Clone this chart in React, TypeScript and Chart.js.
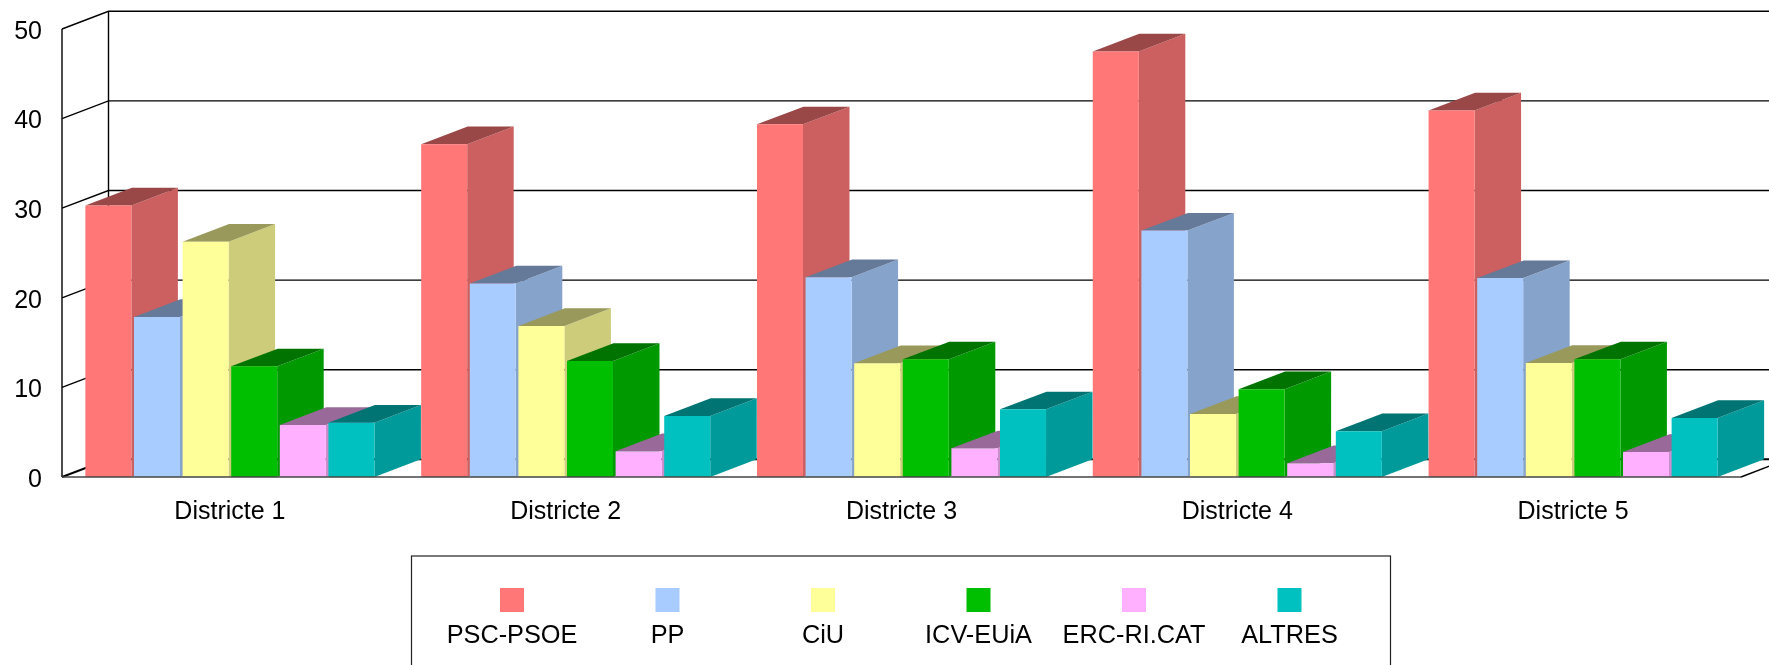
import { useEffect, useRef } from "react";
import { Chart, registerables } from "chart.js";

Chart.register(...registerables);

const categories = ["Districte 1", "Districte 2", "Districte 3", "Districte 4", "Districte 5"];
const pscPsoe = [30.3, 37.13, 39.36, 47.5, 40.9];
const pp = [17.86, 21.6, 22.3, 27.5, 22.2];
const ciu = [26.26, 16.85, 12.69, 7.03, 12.72];
const icvEuia = [12.35, 12.95, 13.13, 9.79, 13.13];
const ercRiCat = [5.8, 2.87, 3.2, 1.53, 2.79];
const altres = [6.06, 6.8, 7.55, 5.1, 6.58];
const yTicks = [0, 10, 20, 30, 40, 50];

const seriesNames = ["PSC-PSOE", "PP", "CiU", "ICV-EUiA", "ERC-RI.CAT", "ALTRES"];
const seriesValues = [pscPsoe, pp, ciu, icvEuia, ercRiCat, altres];
const seriesColors: [number, number, number][] = [
  [255, 119, 119],
  [168, 204, 255],
  [255, 255, 153],
  [0, 191, 0],
  [255, 176, 255],
  [0, 192, 192],
];

const FONT = '"Liberation Sans", Arial, sans-serif';
const FONT_SIZE = 25;
const LEGEND_FONT_SIZE = 25.3;
const DX = 46.5;
const DY = 17.7;

const shade = (c: [number, number, number], f: number) =>
  `rgb(${Math.round(c[0] * f)},${Math.round(c[1] * f)},${Math.round(c[2] * f)})`;

const line = (ctx: CanvasRenderingContext2D, pts: number[][], color: string, width: number) => {
  ctx.beginPath();
  pts.forEach((p, i) => (i ? ctx.lineTo(p[0], p[1]) : ctx.moveTo(p[0], p[1])));
  ctx.strokeStyle = color;
  ctx.lineWidth = width;
  ctx.stroke();
};

const poly = (ctx: CanvasRenderingContext2D, pts: number[][], fill: string) => {
  ctx.beginPath();
  pts.forEach((p, i) => (i ? ctx.lineTo(p[0], p[1]) : ctx.moveTo(p[0], p[1])));
  ctx.closePath();
  ctx.fillStyle = fill;
  ctx.fill();
};

const box3d = {
  id: "box3d",
  beforeDatasetsDraw(chart: any) {
    const { ctx, chartArea, scales } = chart;
    const { left, right, top, bottom } = chartArea;
    ctx.save();
    // walls
    line(ctx, [[left, top], [left, bottom]], "#000", 1.4);
    line(ctx, [[left + DX, top - DY], [left + DX, bottom - DY]], "#000", 1.4);
    for (const t of yTicks) {
      const y = scales.y.getPixelForValue(t);
      const w = t === 0 ? 2 : 1.4;
      line(ctx, [[left, y], [left + DX, y - DY], [right + DX, y - DY]], "#000", w);
    }
    line(ctx, [[right, bottom], [right + DX, bottom - DY]], "#000", 1.4);
    ctx.restore();

    // bars, one series at a time, left to right, so later bars cover earlier side faces
    chart.data.datasets.forEach((_: any, i: number) => {
      const meta = chart.getDatasetMeta(i);
      const c = seriesColors[i];
      ctx.save();
      meta.data.forEach((bar: any) => {
        const l = bar.x - bar.width / 2;
        const r = bar.x + bar.width / 2;
        const yTop = bar.y;
        const yBase = bar.base;
        poly(ctx, [[r, yTop], [r + DX, yTop - DY], [r + DX, yBase - DY], [r, yBase]], shade(c, 0.8));
        poly(ctx, [[l, yTop], [l + DX, yTop - DY], [r + DX, yTop - DY], [r, yTop]], shade(c, 0.6));
      });
      ctx.restore();
      meta.controller.draw();
    });

    // front floor edge on top of the bars
    ctx.save();
    line(ctx, [[left, bottom], [right, bottom]], "#444", 1.6);
    ctx.restore();
    return false;
  },
  afterDraw(chart: any) {
    const { ctx } = chart;
    ctx.save();
    // legend frame, running off the bottom of the picture
    ctx.strokeStyle = "#222";
    ctx.lineWidth = 1.2;
    ctx.strokeRect(411.5, 556, 979, 140);
    ctx.font = `${LEGEND_FONT_SIZE}px ${FONT}`;
    ctx.textAlign = "center";
    ctx.textBaseline = "alphabetic";
    chart.data.datasets.forEach((ds: any, i: number) => {
      const cx = 512 + i * 155.5;
      ctx.fillStyle = ds.backgroundColor;
      ctx.fillRect(cx - 12, 588, 24, 24);
      ctx.fillStyle = "#000";
      ctx.fillText(ds.label, cx, 643);
    });
    ctx.restore();
  },
};

export default function App() {
  const ref = useRef<HTMLCanvasElement>(null);
  useEffect(() => {
    const chart = new Chart(ref.current as HTMLCanvasElement, {
      type: "bar",
      data: {
        labels: categories,
        datasets: seriesNames.map((label, i) => ({
          label,
          data: seriesValues[i],
          backgroundColor: shade(seriesColors[i], 1),
          borderWidth: 0,
          barPercentage: 0.9465,
          categoryPercentage: 0.8685,
        })),
      },
      options: {
        animation: false,
        responsive: false,
        layout: { padding: { top: 29, right: 28, left: 0, bottom: 0 } },
        plugins: { legend: { display: false }, title: { display: false }, tooltip: { enabled: false } },
        scales: {
          x: {
            grid: { display: false },
            border: { display: false },
            ticks: { font: { family: FONT, size: FONT_SIZE }, color: "#000", padding: 12, maxRotation: 0 },
            afterFit(s: any) {
              s.height = 188;
              s.paddingLeft = 0;
              s.paddingRight = 0;
            },
          },
          y: {
            min: 0,
            max: 50,
            grid: { display: false },
            border: { display: false },
            ticks: { stepSize: 10, font: { family: FONT, size: FONT_SIZE }, color: "#000", padding: 12 },
            afterFit(s: any) {
              s.width = 62;
              s.paddingTop = 0;
              s.paddingBottom = 0;
              // the reference centres the digits on the gridline, a little lower than canvas "middle"
              const compute = s._computeLabelItems;
              s._computeLabelItems = function (area: any) {
                const items = compute.call(this, area);
                items.forEach((it: any) => {
                  it.options.translation[1] += 1.5;
                });
                return items;
              };
              s._labelItems = null;
            },
          },
        },
      },
      plugins: [box3d],
    } as any);
    return () => chart.destroy();
  }, []);
  return (
    <div style={{ position: "fixed", left: 0, top: 0, width: 1769, height: 665, overflow: "hidden", background: "#fff" }}>
      <canvas ref={ref} width={1769} height={665} style={{ display: "block" }} />
    </div>
  );
}
